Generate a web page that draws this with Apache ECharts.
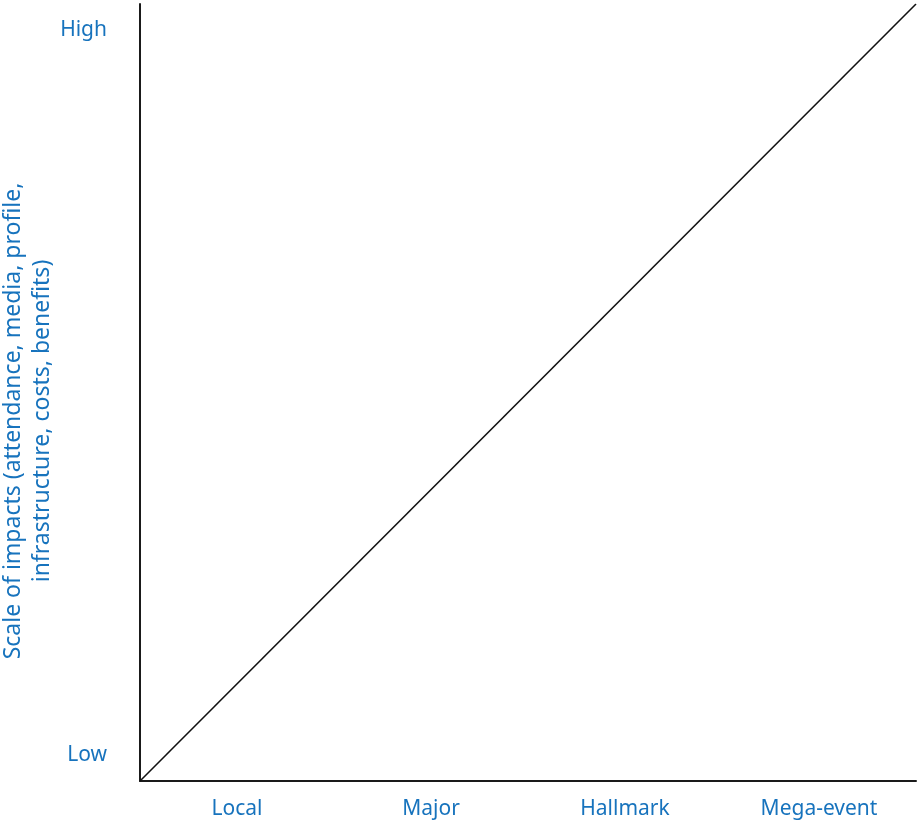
<!DOCTYPE html>
<html>
<head>
<meta charset="utf-8">
<script src="https://cdn.jsdelivr.net/npm/echarts@6/dist/echarts.min.js"></script>
<style>html,body{margin:0;padding:0;background:#fff;}#c{width:917px;height:825px;}</style>
</head>
<body>
<div id="c"></div>
<script>
const categories = ['Local', 'Major', 'Hallmark', 'Mega-event'];
const yTickLabels = { 1: 'Low', 29: 'High' };
const lineX = [0, 1];
const lineY = [0, 30];
const yAxisTitle = ['Scale of impacts (attendance, media, profile,', 'infrastructure, costs, benefits)'];

const blue = '#1773bd';
const font = 'Noto Sans';
const chart = echarts.init(document.getElementById('c'));
chart.setOption({
  animation: false,
  grid: { left: 140, right: 1, top: 4, bottom: 44, containLabel: false },
  xAxis: [
    {
      type: 'category', data: categories, boundaryGap: true,
      axisLine: { lineStyle: { color: '#1a1a1a', width: 2 } },
      axisTick: { show: false },
      axisLabel: { color: blue, fontSize: 21, fontFamily: font, margin: 18 },
      splitLine: { show: false }
    },
    { type: 'value', min: 0, max: 1, show: false }
  ],
  yAxis: {
    type: 'value', min: 0, max: 30, interval: 1,
    axisLine: { show: true, lineStyle: { color: '#1a1a1a', width: 2 } },
    axisTick: { show: false },
    splitLine: { show: false },
    axisLabel: {
      color: blue, fontSize: 21, fontFamily: font, margin: 33, padding: [5, 0, 0, 0],
      formatter: v => yTickLabels[v] || ''
    }
  },
  graphic: [{
    type: 'text', x: 28, y: 421, rotation: Math.PI / 2,
    style: {
      text: yAxisTitle.join('\n'), fill: blue, fontSize: 23, fontFamily: font,
      align: 'center', verticalAlign: 'middle', lineHeight: 29
    }
  }],
  series: [{
    type: 'line', xAxisIndex: 1, symbol: 'none',
    data: lineX.map((x, i) => [x, lineY[i]]),
    lineStyle: { color: '#111', width: 1.6 }
  }]
});
</script>
</body>
</html>
